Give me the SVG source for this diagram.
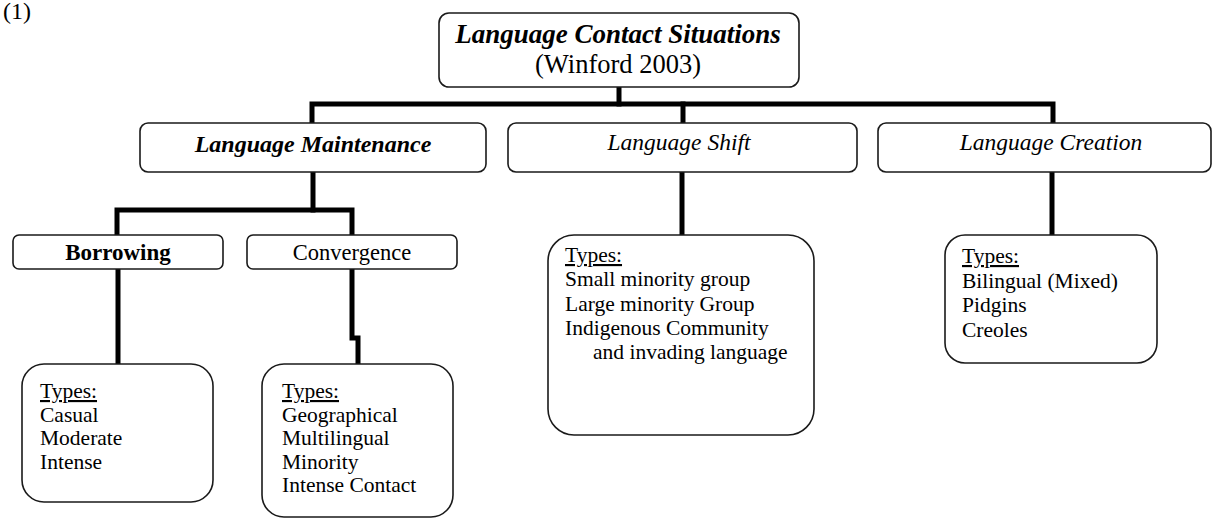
<svg xmlns="http://www.w3.org/2000/svg" width="1214" height="519" viewBox="0 0 1214 519">
<style>
text{font-family:"Liberation Serif","Times New Roman",serif;fill:#000}
.box{fill:#fff;stroke:#1a1a1a;stroke-width:1.6}
.conn{fill:none;stroke:#000;stroke-width:5;stroke-linecap:square;stroke-linejoin:miter}
.t1{font-size:27px;font-weight:bold;font-style:italic}
.t2{font-size:26.5px}
.h2b{font-size:24px;font-weight:bold;font-style:italic}
.h2{font-size:23.5px;font-style:italic}
.h3b{font-size:23px;font-weight:bold}
.h3{font-size:22.5px}
.ty{font-size:21.5px}
.u{text-decoration:underline}
</style>
<rect width="1214" height="519" fill="#fff"/>
<text x="3" y="19" style="font-size:24px">(1)</text>

<g id="connectors">
<path class="conn" d="M619,87 V104"/>
<path class="conn" d="M312,123 V104 H1053 V123"/>
<path class="conn" d="M683,104 V123"/>
<path class="conn" d="M313,172 V210"/>
<path class="conn" d="M117,235 V210 H352 V235"/>
<path class="conn" d="M118,269 V364"/>
<path class="conn" d="M352,269 V338 H358 V364" style="stroke-linecap:butt"/>
<path class="conn" d="M682,172 V235"/>
<path class="conn" d="M1052,172 V235"/>
</g>

<g id="root">
<rect class="box" x="439" y="13" width="360" height="74" rx="10"/>
<text class="t1" x="618" y="43" text-anchor="middle">Language Contact Situations</text>
<text class="t2" x="618" y="73" text-anchor="middle">(Winford 2003)</text>
</g>

<g id="maintenance">
<rect class="box" x="140" y="123" width="346" height="49" rx="8"/>
<text class="h2b" x="313" y="152" text-anchor="middle">Language Maintenance</text>
</g>

<g id="shift">
<rect class="box" x="508" y="123" width="349" height="49" rx="8"/>
<text class="h2" x="679" y="150" text-anchor="middle">Language Shift</text>
</g>

<g id="creation">
<rect class="box" x="878" y="123" width="333" height="49" rx="8"/>
<text class="h2" x="1051" y="150" text-anchor="middle">Language Creation</text>
</g>

<g id="borrowing">
<rect class="box" x="13" y="235" width="210" height="34" rx="6"/>
<text class="h3b" x="118" y="260" text-anchor="middle">Borrowing</text>
</g>

<g id="convergence">
<rect class="box" x="247" y="235" width="210" height="34" rx="6"/>
<text class="h3" x="352" y="260" text-anchor="middle">Convergence</text>
</g>

<g id="borrowing-types">
<rect class="box" x="22" y="364" width="191" height="138" rx="22"/>
<text class="ty" x="40" y="398"><tspan class="u">Types:</tspan><tspan x="40" dy="23.5">Casual</tspan><tspan x="40" dy="23.5">Moderate</tspan><tspan x="40" dy="23.5">Intense</tspan></text>
</g>

<g id="convergence-types">
<rect class="box" x="262" y="364" width="191" height="153" rx="22"/>
<text class="ty" x="282" y="398"><tspan class="u">Types:</tspan><tspan x="282" dy="23.5">Geographical</tspan><tspan x="282" dy="23.5">Multilingual</tspan><tspan x="282" dy="23.5">Minority</tspan><tspan x="282" dy="23.5">Intense Contact</tspan></text>
</g>

<g id="shift-types">
<rect class="box" x="548" y="235" width="266" height="200" rx="26"/>
<text class="ty" x="565" y="262"><tspan class="u">Types:</tspan><tspan x="565" dy="24.3">Small minority group</tspan><tspan x="565" dy="24.3">Large minority Group</tspan><tspan x="565" dy="24.3">Indigenous Community</tspan><tspan x="593" dy="24.3">and invading language</tspan></text>
</g>

<g id="creation-types">
<rect class="box" x="945" y="235" width="212" height="128" rx="20"/>
<text class="ty" x="962" y="263"><tspan class="u">Types:</tspan><tspan x="962" dy="24.7">Bilingual (Mixed)</tspan><tspan x="962" dy="24.7">Pidgins</tspan><tspan x="962" dy="24.7">Creoles</tspan></text>
</g>
</svg>
